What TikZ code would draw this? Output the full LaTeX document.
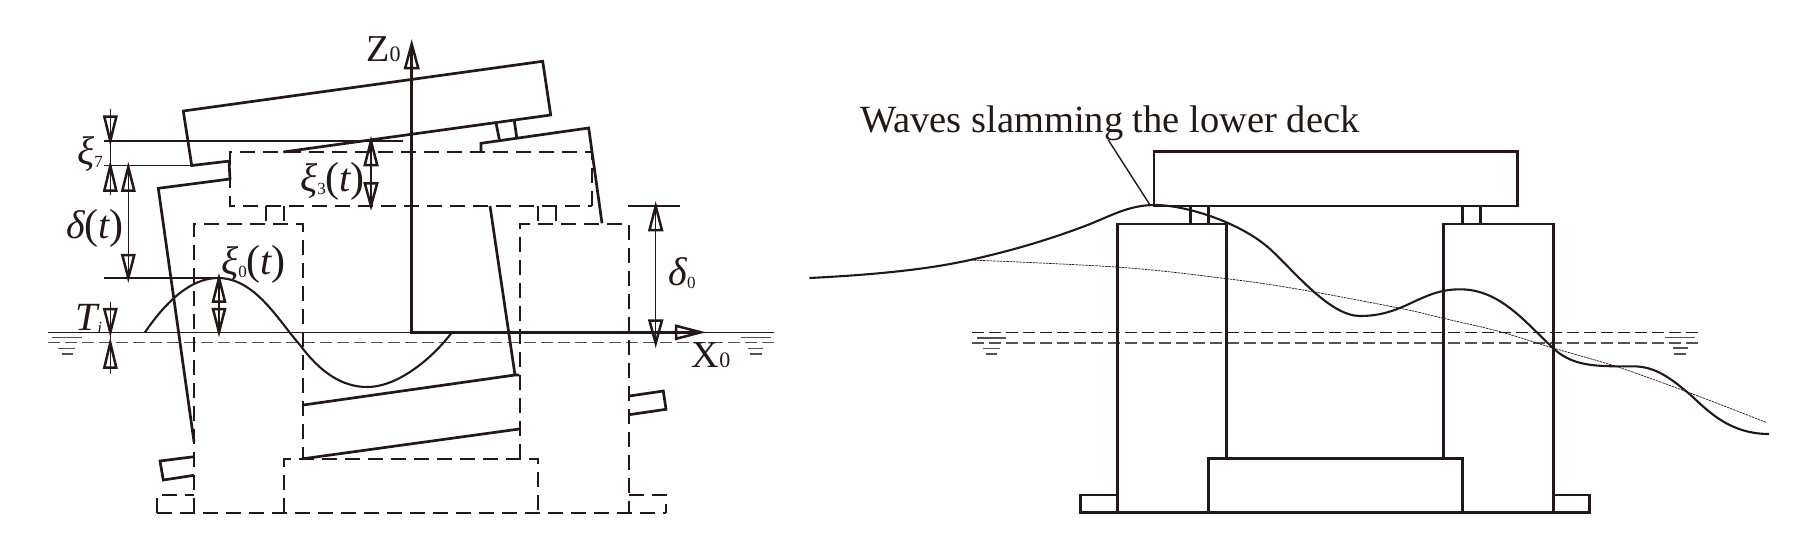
\documentclass[tikz,border=0pt]{standalone}
\usepackage{fontspec}
\setmainfont{Liberation Serif}
\definecolor{ink}{HTML}{231815}
\definecolor{waterink}{HTML}{555150}
\newcommand\fsz[1]{\fontsize{#1}{#1}\selectfont}
\newcommand\sbs[2][-3pt]{\raisebox{#1}{\fsz{17}\upshape #2}}
\newcommand\ofT{{\upshape\fsz{42}(}t{\upshape\fsz{42})}}
\newcommand\headV[4]{\draw[headln] (#1,#2) -- ({#1-#4},#3) -- ({#1+#4},#3) -- cycle;}
\newcommand\headH[4]{\draw[headln] (#1,#3) -- (#2,{#3-#4}) -- (#2,{#3+#4}) -- cycle;}
\tikzset{
  solidln/.style={draw=ink,line width=2.7pt,line join=miter},
  dashln/.style={draw=ink,line width=2.2pt,dash pattern=on 15pt off 8pt},
  axisln/.style={draw=ink,line width=3pt},
  thinln/.style={draw=ink,line width=1.4pt},
  headln/.style={draw=ink,line width=2.5pt,line join=miter,miter limit=10},
  waterdash/.style={draw=waterink,line width=1.3pt,dash pattern=on 12pt off 5pt},
  waterdashk/.style={draw=ink,line width=1.3pt,dash pattern=on 12pt off 5pt},
  waterln/.style={draw=waterink,line width=1.5pt},
  waveln/.style={draw=ink,line width=2.1pt},
  dotln/.style={draw=ink,line width=0.7pt,dash pattern=on 2.5pt off 0.8pt},
  lab/.style={text=ink,inner sep=0pt,font=\fsz{38}},
  labm/.style={text=ink,inner sep=0pt,font=\fsz{40}\itshape,anchor=base west},
}
\begin{document}
\begin{tikzpicture}[x=1pt,y=-1pt]
\useasboundingbox (0,0) rectangle (1795,538);
% ---------- LEFT FIGURE ----------
% water
\draw[thinln] (48.3,332.3) -- (774,332.3);
\draw[waterdash] (48.3,342.7) -- (774,342.7);
\draw[waterln] (51.7,337.7) -- (81.7,337.7) (58,348.7) -- (75,348.7) (61.7,354) -- (73.3,354);
\draw[waterln] (740.7,337.7) -- (770.7,337.7) (748,348.7) -- (763,348.7) (750,354) -- (762,354);
% dashed (still) structure
\draw[dashln] (592.3,206) -- (592.3,152) -- (230,152) -- (230,206) -- (592.3,206);
\draw[dashln] (194,513) -- (194,224) -- (302.7,224) -- (302.7,458.7);
\draw[dashln] (520,458.7) -- (520,224) -- (629,224) -- (629,513);
\draw[dashln] (266,206) -- (266,224) (284,206) -- (284,224);
\draw[dashln] (538,206) -- (538,224) (555.7,206) -- (555.7,224);
\draw[dashln] (284,513) -- (284,458.7) -- (538,458.7) -- (538,513);
\draw[dashln] (157.3,513) -- (157.3,495) -- (194,495);
\draw[dashln] (629,495) -- (665.7,495) -- (665.7,513);
\draw[dashln] (157.3,513) -- (665.7,513);
% tilted (solid) structure
\draw[solidln] (230,161) -- (191.7,165.5) -- (183.3,111) -- (542.7,61.3) -- (550.7,115) -- (283.3,152);
\draw[solidln] (229,161) -- (230,179) -- (158.3,188.3) -- (194,441.7);
\draw[solidln] (194,456.7) -- (160,461) -- (163.3,480) -- (194,475.3);
\draw[solidln] (481,152) -- (481,143.3) -- (588.7,128) -- (602,223.3);
\draw[solidln] (496,122.7) -- (499.3,139.3) (514.3,120.7) -- (516.7,137.3);
\draw[solidln] (490,206) -- (515,375) (519.3,375) -- (515,375) -- (303.3,405);
\draw[solidln] (303.3,458.7) -- (519.3,429);
\draw[solidln] (629.3,396) -- (663.3,391) -- (666,409.3) -- (629.3,414.7);
% wave
\draw[waveln] (145,332.3) .. controls (165,303) and (190,278) .. (218,278)
  .. controls (255,278) and (278,320) .. (300,345)
  .. controls (320,372) and (342,387) .. (367,387)
  .. controls (400,387) and (435,355) .. (452,332.3);
% axes
\draw[axisln] (411.7,46) -- (411.7,332.3) -- (695,332.3);
\headV{411.7}{44}{68}{6.5}
\headH{701}{676}{332.3}{6.5}
% reference lines
\draw[thinln] (104,141) -- (403,141);
\draw[thinln] (104,165.7) -- (191.7,165.7);
\draw[thinln] (104,278) -- (218,278);
\draw[thinln] (628,206) -- (680,206);
% dimension arrows
\draw[thinln] (110.3,108.7) -- (110.3,195);
\headV{110.3}{141}{116.7}{6}
\headV{110.3}{165.7}{190.7}{6}
\draw[thinln] (128.3,165.7) -- (128.3,278);
\headV{128.3}{167}{190.7}{6}
\headV{128.3}{278}{255}{6}
\draw[thinln] (371,141) -- (371,206);
\headV{371}{141}{165}{6.2}
\headV{371}{206}{183.3}{6.2}
\draw[thinln] (219,278) -- (219,332.3);
\headV{219}{278}{301.7}{6}
\headV{219}{332.3}{309}{6}
\draw[thinln] (110.3,301.7) -- (110.3,374.3);
\headV{110.3}{332.3}{309}{6}
\headV{110.3}{342.7}{367.7}{6}
\draw[thinln] (655.7,206) -- (655.7,343.3);
\headV{655.7}{206}{230}{6.2}
\headV{655.7}{343.3}{320.7}{6.2}
% labels
\node[lab,anchor=base east] (zlab) at (400.7,61) {Z\fsz{22}0};
\node[lab,anchor=base west] (xlab) at (691.7,367) {X\fsz{22}0};
\node[labm] (xi7) at (77,164) {ξ\sbs{7}};
\node[labm] (xi3) at (300,191.7) {ξ\sbs{3}\ofT};
\node[labm] (dlt) at (66,238) {δ\ofT};
\node[labm] (xi0) at (221,274) {ξ\sbs{0}\ofT};
\node[labm] (tii) at (75,330) {T\raisebox{-3pt}{\fsz{17}i}};
\node[labm] (dl0) at (668.3,285) {δ\sbs{0}};
% ---------- RIGHT FIGURE ----------
\node[lab,anchor=base west,font=\fsz{38.5}] (wavetxt) at (860,132.7) {Waves slamming the lower deck};
\coordinate (leadA) at (1108.3,140);
\coordinate (leadB) at (1150,205);
\draw[thinln] (leadA) -- (leadB);
\draw[waterdashk] (972.3,332.3) -- (1698.3,332.3);
\draw[waterdash] (972.3,343) -- (1698.3,343);
\draw[waterln] (977.3,338) -- (1006,338) (983,348.3) -- (1000,348.3) (985.7,354) -- (997.3,354);
\draw[waterln] (1665,337.5) -- (1695,337.5) (1672.7,348) -- (1688,348) (1674,354) -- (1686,354);
\draw[solidln] (1154,151.7) rectangle (1517.3,206);
\draw[solidln] (1117.7,512.7) -- (1117.7,224) -- (1226.7,224) -- (1226.7,458.7);
\draw[solidln] (1443.3,458.7) -- (1443.3,224) -- (1553.3,224) -- (1553.3,512.7);
\draw[solidln] (1190.7,206) -- (1190.7,224) (1208.3,206) -- (1208.3,224);
\draw[solidln] (1462.3,206) -- (1462.3,224) (1480.3,206) -- (1480.3,224);
\draw[solidln] (1208.4,458.7) rectangle (1462.5,512.7);
\draw[solidln] (1117.7,495) -- (1080.6,495) -- (1080.6,512.7) -- (1589.6,512.7) -- (1589.6,495) -- (1553.3,495);
\draw[dotln] plot[smooth,tension=0.6] coordinates {(970,260) (1120,267.3) (1226.7,278.7) (1300,289.5) (1400,308.3) (1443.3,318.3) (1500,331.7) (1553,348) (1616.7,366.7) (1686.7,391.7) (1766,422.3)};
\draw[waveln] (809.3,278) .. controls (870,275) and (925,270) .. (970,260)
  .. controls (1010,251) and (1045,241) .. (1085,226)
  .. controls (1110,216.5) and (1128,205) .. (1155,205)
  .. controls (1185,205) and (1240,222) .. (1270,249)
  .. controls (1295,272) and (1330,316) .. (1360,316)
  .. controls (1405,316) and (1420,289.3) .. (1460,289.3)
  .. controls (1500,289.3) and (1525,322) .. (1553.3,348.3)
  .. controls (1570,364) and (1590,366) .. (1615,366.3)
  -- (1633,366.3)
  .. controls (1655,366.3) and (1670,378) .. (1686.7,391.7)
  .. controls (1703,405) and (1725,434) .. (1769,434);
\end{tikzpicture}
\end{document}
